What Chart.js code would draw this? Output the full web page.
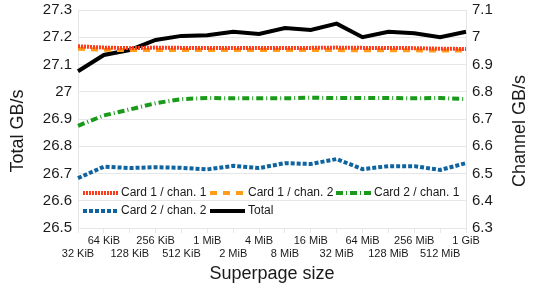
<!DOCTYPE html>
<html>
<head>
<meta charset="utf-8">
<script src="https://cdn.jsdelivr.net/npm/chart.js@4"></script>
<style>
  html, body { margin: 0; padding: 0; background: #fff; }
  #wrap { width: 540px; height: 300px; }
</style>
</head>
<body>
<div id="wrap"><canvas id="chart"></canvas></div>
<script>
const sizes = ['32 KiB', '64 KiB', '128 KiB', '256 KiB', '512 KiB', '1 MiB', '2 MiB', '4 MiB',
  '8 MiB', '16 MiB', '32 MiB', '64 MiB', '128 MiB', '256 MiB', '512 MiB', '1 GiB'];

const card1chan1 = [6.967, 6.962, 6.960, 6.962, 6.961, 6.961, 6.961, 6.961, 6.961, 6.961, 6.962, 6.961, 6.961, 6.960, 6.958, 6.957];
const card1chan2 = [6.958, 6.954, 6.953, 6.953, 6.953, 6.953, 6.953, 6.953, 6.953, 6.953, 6.953, 6.952, 6.952, 6.952, 6.951, 6.951];
const card2chan1 = [6.675, 6.713, 6.735, 6.758, 6.773, 6.777, 6.776, 6.776, 6.776, 6.778, 6.777, 6.777, 6.777, 6.776, 6.777, 6.773];
const card2chan2 = [6.483, 6.525, 6.520, 6.523, 6.521, 6.515, 6.528, 6.520, 6.538, 6.535, 6.553, 6.516, 6.527, 6.527, 6.513, 6.538];
const total = [27.075, 27.135, 27.153, 27.19, 27.205, 27.207, 27.22, 27.212, 27.234, 27.227, 27.25, 27.2, 27.22, 27.215, 27.2, 27.22];

const leftTitle = 'Total GB/s';
const rightTitle = 'Channel GB/s';

const textColor = '#1a1a1a';
const gridColor = '#e6e6e6';
const fontFamily = '"Liberation Sans", Arial, sans-serif';

// trims "27.30" -> "27.3", "27.00" -> "27"
const fmt = v => String(Number(v.toFixed(2)));

// legend inside the plot area (two rows) and both y titles reading bottom-to-top
const extras = {
  id: 'extras',
  afterDraw(chart) {
    const ctx = chart.ctx;
    const area = chart.chartArea;
    const rows = [193, 211];
    const cols = [5, 132, 258];
    ctx.save();
    ctx.font = '12px ' + fontFamily;
    ctx.textBaseline = 'middle';
    chart.data.datasets.forEach((ds, i) => {
      const x = Math.round(area.left + cols[i % 3]);
      const y = rows[Math.floor(i / 3)];
      ctx.beginPath();
      ctx.strokeStyle = ds.borderColor;
      ctx.lineWidth = ds.borderWidth;
      ctx.setLineDash(ds.borderDash || []);
      ctx.moveTo(x, y);
      ctx.lineTo(x + 35, y);
      ctx.stroke();
      ctx.setLineDash([]);
      ctx.fillStyle = textColor;
      ctx.fillText(ds.label, x + 38, y);
    });

    ctx.font = '18px ' + fontFamily;
    ctx.textAlign = 'center';
    [[18, leftTitle], [520, rightTitle]].forEach(([tx, text]) => {
      ctx.save();
      ctx.translate(tx, 131);
      ctx.rotate(-Math.PI / 2);
      ctx.fillText(text, 0, 0);
      ctx.restore();
    });
    ctx.restore();
  }
};

const noPad = s => { s.paddingTop = 0; s.paddingBottom = 0; };

new Chart(document.getElementById('chart'), {
  type: 'line',
  data: {
    labels: sizes,
    datasets: [
      { label: 'Card 1 / chan. 1', data: card1chan1, yAxisID: 'y2', borderColor: '#ff3a1a', borderWidth: 4, borderDash: [2, 1] },
      { label: 'Card 1 / chan. 2', data: card1chan2, yAxisID: 'y2', borderColor: '#ff9c1a', borderWidth: 4, borderDash: [7, 6] },
      { label: 'Card 2 / chan. 1', data: card2chan1, yAxisID: 'y2', borderColor: '#1a9a1a', borderWidth: 4, borderDash: [7, 3, 1, 3] },
      { label: 'Card 2 / chan. 2', data: card2chan2, yAxisID: 'y2', borderColor: '#0f64a0', borderWidth: 4, borderDash: [4, 2] },
      { label: 'Total', data: total, yAxisID: 'y', borderColor: '#000000', borderWidth: 4 }
    ]
  },
  options: {
    responsive: true,
    maintainAspectRatio: false,
    animation: false,
    layout: { padding: { top: 10, left: 0, right: 0, bottom: 0 } },
    elements: { point: { radius: 0 }, line: { tension: 0 } },
    plugins: { legend: { display: false }, tooltip: { enabled: false } },
    scales: {
      x: {
        offset: false,
        grid: { drawOnChartArea: false, color: gridColor, tickLength: 5 },
        border: { color: gridColor },
        ticks: {
          autoSkip: false, maxRotation: 0, minRotation: 0, padding: 1,
          color: textColor, font: { family: fontFamily, size: 11 },
          callback: (v, i) => (i % 2 === 0 ? ['', sizes[i]] : sizes[i])
        },
        title: { display: true, text: 'Superpage size', color: textColor, font: { family: fontFamily, size: 18 }, padding: { top: 0, bottom: 15 } },
        afterFit: s => { s.height = 72; }
      },
      y: {
        position: 'left', min: 26.5, max: 27.3,
        grid: { color: gridColor, drawTicks: false },
        border: { color: gridColor },
        ticks: { stepSize: 0.1, padding: 6, color: textColor, font: { family: fontFamily, size: 15 }, callback: fmt },
        afterFit: s => { s.width = 78; noPad(s); }
      },
      y2: {
        position: 'right', min: 6.3, max: 7.1,
        grid: { drawOnChartArea: false, drawTicks: false },
        border: { color: gridColor },
        ticks: { stepSize: 0.1, padding: 6, color: textColor, font: { family: fontFamily, size: 15 }, callback: fmt },
        afterFit: s => { s.width = 74; noPad(s); }
      }
    }
  },
  plugins: [extras]
});
</script>
</body>
</html>
